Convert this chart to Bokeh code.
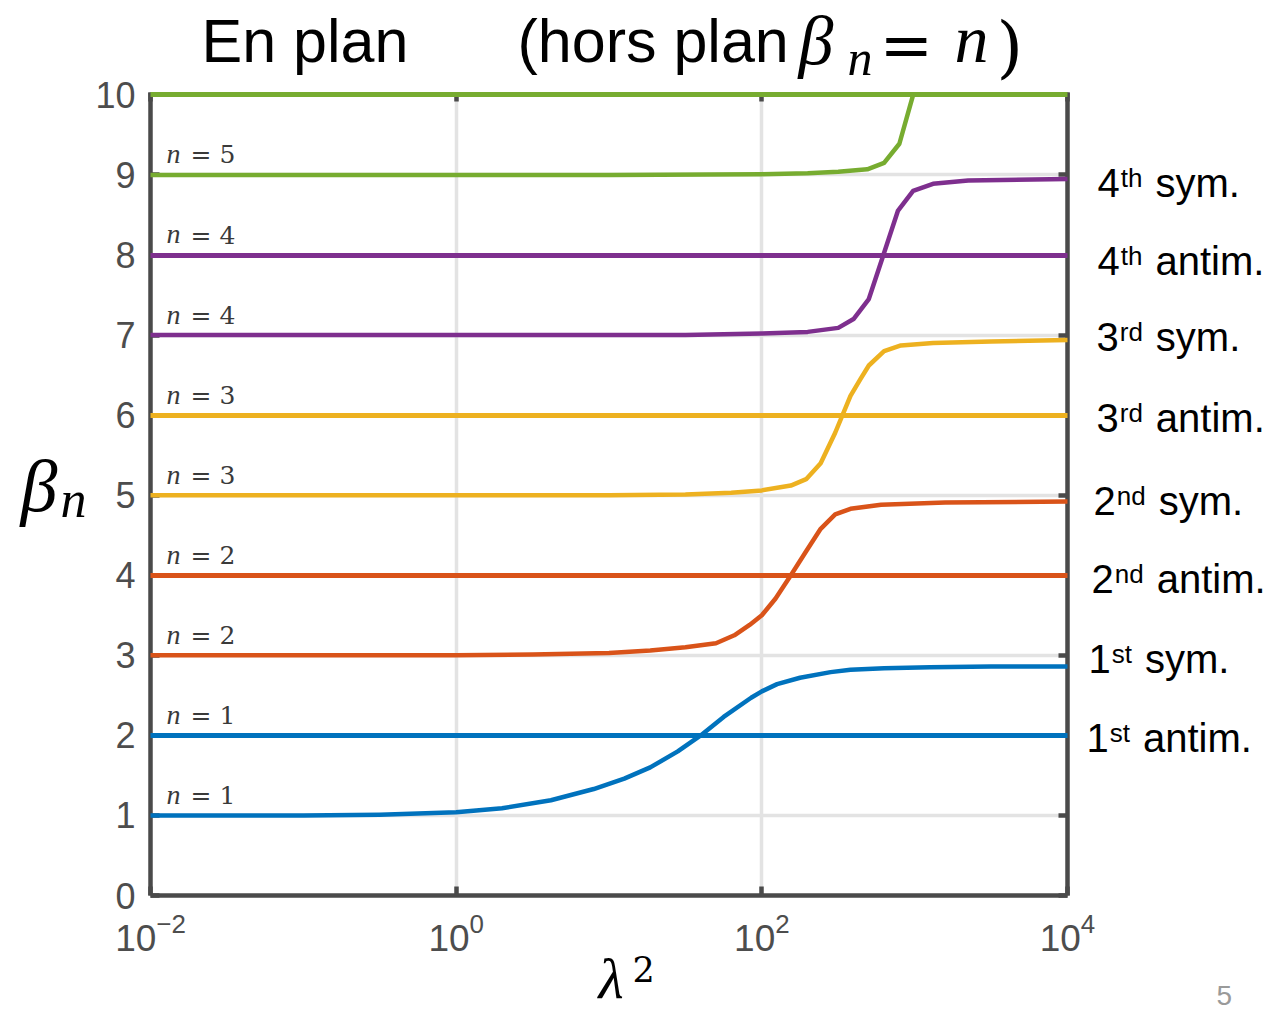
import numpy as np
from bokeh.plotting import figure
from bokeh.models import Range1d, LinearAxis, LogAxis, FixedTicker
from bokeh.core.properties import value
from bokeh.embed import file_html
from bokeh.resources import INLINE

# ---------------- data ----------------
x_ticks = [1e-2, 1e0, 1e2, 1e4]
y_ticks = [0, 1, 2, 3, 4, 5, 6, 7, 8, 9, 10]

mode_colors = ["#0072BD", "#D95319", "#EDB120", "#7E2F8E", "#77AC30"]

# in-plane antisymmetric modes (constant beta)
antim_levels = [2, 4, 6, 8, 10]

# symmetric modes : log10(lambda^2) and beta_n
sym1_logx = [-2, -1, -0.5, 0, 0.3, 0.62, 0.9, 1.1, 1.27, 1.45, 1.6, 1.75, 1.93, 2.0, 2.1, 2.25, 2.45, 2.58, 2.8, 3.1, 3.5, 4.0]
sym1_y    = [1.0, 1.0, 1.01, 1.04, 1.09, 1.19, 1.33, 1.46, 1.60, 1.80, 2.0, 2.23, 2.47, 2.55, 2.64, 2.72, 2.79, 2.82, 2.84, 2.85, 2.86, 2.86]

sym2_logx = [-2, 0, 0.5, 1.0, 1.27, 1.5, 1.7, 1.82, 1.92, 2.0, 2.09, 2.19, 2.29, 2.385, 2.48, 2.58, 2.78, 3.2, 4.0]
sym2_y    = [3.0, 3.0, 3.01, 3.03, 3.06, 3.10, 3.15, 3.25, 3.38, 3.50, 3.71, 4.0, 4.3, 4.58, 4.76, 4.83, 4.88, 4.91, 4.92]

sym3_logx = [-2, 1.0, 1.5, 1.8, 2.0, 2.19, 2.29, 2.385, 2.48, 2.58, 2.645, 2.70, 2.80, 2.91, 3.12, 3.5, 4.0]
sym3_y    = [5.0, 5.0, 5.01, 5.03, 5.06, 5.12, 5.2, 5.4, 5.78, 6.24, 6.45, 6.62, 6.80, 6.87, 6.90, 6.92, 6.94]

sym4_logx = [-2, 1.0, 1.5, 2.0, 2.3, 2.5, 2.6, 2.7, 2.79, 2.89, 2.99, 3.12, 3.35, 4.0]
sym4_y    = [7.0, 7.0, 7.0, 7.02, 7.04, 7.09, 7.2, 7.45, 7.97, 8.55, 8.8, 8.89, 8.93, 8.95]

sym5_logx = [-2, 1.0, 2.0, 2.3, 2.5, 2.69, 2.8, 2.9, 2.99]
sym5_y    = [9.0, 9.0, 9.01, 9.02, 9.04, 9.07, 9.15, 9.39, 10.0]

sym_logx = [sym1_logx, sym2_logx, sym3_logx, sym4_logx, sym5_logx]
sym_y = [sym1_y, sym2_y, sym3_y, sym4_y, sym5_y]

# "n = k" annotations at the left of each branch
n_label_levels = [1, 2, 3, 4, 5, 6, 7, 8, 9]
n_label_values = [1, 1, 2, 2, 3, 3, 4, 4, 5]

# right-hand mode names
right_ordinals = ["1", "1", "2", "2", "3", "3", "4", "4"]
right_suffixes = ["st", "st", "nd", "nd", "rd", "rd", "th", "th"]
right_kinds = ["antim.", "sym.", "antim.", "sym.", "antim.", "sym.", "antim.", "sym."]
right_levels = [1.97, 2.95, 3.96, 4.93, 5.96, 6.98, 7.93, 8.90]

# ---------------- layout ----------------
W, H = 1270, 1013
LEFT, TOP = 150, 92
FW, FH = 917, 803
RIGHT = W - LEFT - FW
BOTTOM = H - TOP - FH
Y_TOP = 10.03
PX = FH / Y_TOP      # pixels per beta unit
CORR = 0.36          # renderer places the text anchor ~0.36 em above the baseline

AX = "#4a4a4a"
SANS = "Liberation Sans"
SERIF = "DejaVu Serif"
ISERIF = "Liberation Serif"


def dx(sx):
    return 10 ** (-2 + (sx - LEFT) / FW * 6)


def dy(sy):
    return (TOP + FH - sy) / FH * Y_TOP


p = figure(frame_width=FW, frame_height=FH,
           min_border_left=LEFT, min_border_right=RIGHT,
           min_border_top=TOP, min_border_bottom=BOTTOM,
           x_axis_type="log", x_range=Range1d(1e-2, 1e4), y_range=Range1d(0, Y_TOP),
           output_backend="svg", toolbar_location=None)
p.outline_line_color = None
p.background_fill_color = "white"
p.border_fill_color = "white"

p.add_layout(LinearAxis(), "right")
p.add_layout(LogAxis(), "above")

for ax in list(p.xaxis):
    ax.ticker = FixedTicker(ticks=x_ticks)
for ax in list(p.yaxis):
    ax.ticker = FixedTicker(ticks=y_ticks)

for ax in list(p.xaxis) + list(p.yaxis):
    ax.axis_line_color = AX
    ax.axis_line_width = 4.5
    ax.major_tick_in = 9
    ax.major_tick_out = 0
    ax.major_tick_line_color = AX
    ax.major_tick_line_width = 4.5
    ax.minor_tick_line_color = None
    ax.major_label_text_font = SANS
    ax.major_label_text_color = "#4d4d4d"

p.below[0].major_label_text_font_size = "37px"
p.below[0].major_label_standoff = 17
p.left[0].major_label_text_font_size = "36px"
p.left[0].major_label_standoff = 15
for ax in (p.right[0], p.above[0]):
    ax.major_label_text_font_size = "0px"
    ax.major_label_text_color = None
    ax.major_label_standoff = 0
p.above[0].axis_line_color = None

p.xgrid.ticker = FixedTicker(ticks=x_ticks)
p.ygrid.ticker = FixedTicker(ticks=y_ticks)
for g in (p.xgrid, p.ygrid):
    g.grid_line_color = "#e3e3e3"
    g.grid_line_width = 3.5

# antisymmetric modes : horizontal lines
p.hspan(y=antim_levels, line_color=mode_colors, line_width=5, level="overlay")

# symmetric modes : curves
for lx, yy, c in zip(sym_logx, sym_y, mode_colors):
    p.line(10 ** np.array(lx, dtype=float), yy, line_color=c, line_width=4.5,
           line_join="round", level="overlay")


def txt(xs, ys, texts, font, size, style="normal", color="black"):
    p.text(x=xs, y=ys, text=texts, text_font=value(font),
           text_font_size=value(f"{size}px"), text_font_style=style,
           text_color=color, text_align="left", text_baseline="alphabetic",
           level="overlay")


def stxt(items, font, size, style="normal", color="black"):
    """items: (text, screen x, screen baseline y)"""
    txt([dx(sx) for _, sx, _ in items],
        [dy(by - CORR * size) for _, _, by in items],
        [t for t, _, _ in items], font, size, style, color)


# title  "En plan      (hors plan beta_n = n)"
stxt([("En plan", 201, 62), ("(hors plan", 517, 62)], SANS, 61)
stxt([("β", 798, 65)], ISERIF, 70, "italic")
stxt([("n", 847, 75)], ISERIF, 50, "italic")
stxt([("=", 879, 68)], SERIF, 64)
stxt([("n", 954, 63)], ISERIF, 68, "italic")
stxt([(")", 996, 70)], SERIF, 68)

# y label  beta_n
stxt([("β", 20, 512)], ISERIF, 74, "italic")
stxt([("n", 60, 518)], ISERIF, 52, "italic")

# x label  lambda^2
stxt([("λ", 598, 999)], ISERIF, 58, "italic")
stxt([("2", 632, 981)], SERIF, 35)

# page number
stxt([("5", 1216, 1005)], SANS, 28, color="#9a9a9a")

# n = k labels (baseline 11 px above each branch)
NL = 28
txt([dx(166)] * len(n_label_levels), [l + (11 + CORR * NL) / PX for l in n_label_levels],
    ["n"] * len(n_label_levels), ISERIF, NL, "italic", "#3a3a3a")
NE = 25
txt([dx(190)] * len(n_label_levels), [l + (11 + CORR * NE) / PX for l in n_label_levels],
    [f"= {k}" for k in n_label_values], SERIF, NE, "normal", "#3a3a3a")

# right-hand mode names
ADV = {"t": 0.278, "h": 0.556, "r": 0.333, "d": 0.556, "n": 0.556, "s": 0.5}
digit_sx = [1086, 1088, 1091, 1093, 1096, 1096, 1097, 1097]
MAIN, SUP = 40, 26
ox, oy, sx_, sy_, kx, ky = [], [], [], [], [], []
for o, sfx, kind, lvl, sx in zip(right_ordinals, right_suffixes, right_kinds, right_levels, digit_sx):
    base = lvl - 14.5 / PX          # baseline of the main text
    x1 = sx + 0.556 * MAIN + 1
    x2 = x1 + sum(ADV[c] for c in sfx) * SUP + 13
    ox.append(dx(sx)); oy.append(base + CORR * MAIN / PX)
    sx_.append(dx(x1)); sy_.append(base + (10 + CORR * SUP) / PX)
    kx.append(dx(x2)); ky.append(base + CORR * MAIN / PX)
txt(ox, oy, right_ordinals, SANS, MAIN)
txt(sx_, sy_, right_suffixes, SANS, SUP)
txt(kx, ky, right_kinds, SANS, MAIN)

open("out.html", "w").write(file_html(p, INLINE))
